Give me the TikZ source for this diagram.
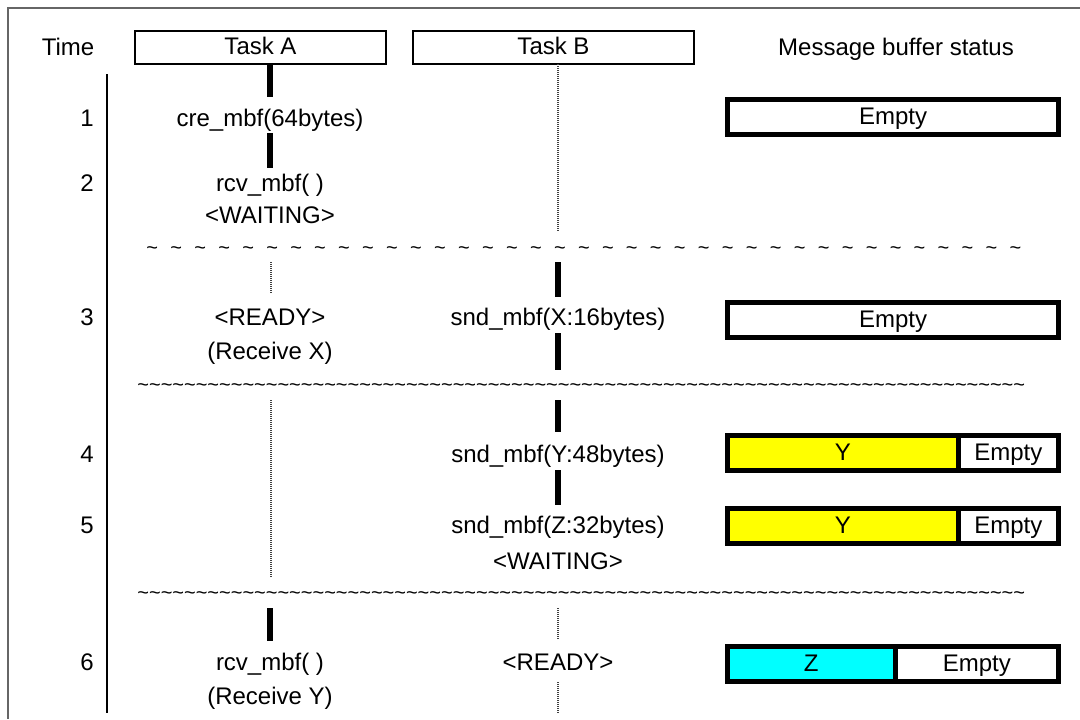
\documentclass[tikz,border=0pt]{standalone}
\usepackage{fontspec}
\setmainfont{Liberation Sans}
\definecolor{bufy}{RGB}{255,255,0}
\definecolor{bufz}{RGB}{0,255,255}
\tikzset{
  txt/.style={font=\fontsize{12}{14}\selectfont, inner sep=0pt, text height=0.72em, text depth=0pt},
  taskbox/.style={txt, draw, line width=0.7pt, minimum height=16.5pt},
  run/.style={line width=3.3pt},
  idle/.style={line width=1pt, black!75, dash pattern=on 0.5pt off 0.5pt},
  cell/.style={txt, draw, line width=2.5pt, minimum height=17.5pt},
  wave/.style={font=\fontsize{10}{12}\selectfont, inner sep=0pt, anchor=base west},
}
\begin{document}
\begin{tikzpicture}[x=0.5pt,y=-0.5pt]
\useasboundingbox (0,0) rectangle (1080,719);
% frame
\draw[black!60, line width=0.6pt] (1080,8) -- (8,8) -- (8,719);

% headers
\node[txt] (time) at (68,48) {Time};
\node[taskbox, minimum width=125.5pt] (taska) at (260.5,47.5) {Task A};
\node[taskbox, minimum width=140.5pt] (taskb) at (553.5,47.5) {Task B};
\node[txt] (status) at (896,48) {Message buffer status};

% time axis
\draw[line width=0.6pt] (107,74) -- (107,713);
\node[txt, anchor=east] (t1) at (94,119) {1};
\node[txt, anchor=east] (t2) at (94,184) {2};
\node[txt, anchor=east] (t3) at (94,318) {3};
\node[txt, anchor=east] (t4) at (94,455) {4};
\node[txt, anchor=east] (t5) at (94,526) {5};
\node[txt, anchor=east] (t6) at (94,663) {6};

% Task A
\draw[run] (270,64) -- (270,97);
\node[txt] (a1) at (270,119) {cre\_mbf(64bytes)};
\draw[run] (270,133) -- (270,168);
\node[txt] (a2) at (270,184) {rcv\_mbf( )};
\node[txt] (a2w) at (270,216) {<WAITING>};
\draw[idle] (271,262) -- (271,294);
\node[txt] (a3) at (270,318) {<READY>};
\node[txt] (a3r) at (270,352) {(Receive X)};
\draw[idle] (271,400) -- (271,578);
\draw[run] (270,608) -- (270,641);
\node[txt] (a6) at (270,663) {rcv\_mbf( )};
\node[txt] (a6r) at (270,697) {(Receive Y)};

% Task B
\draw[idle] (558,64) -- (558,232);
\draw[run] (558,262) -- (558,297);
\node[txt] (b3) at (558,318) {snd\_mbf(X:16bytes)};
\draw[run] (558,333) -- (558,370);
\draw[run] (558,400) -- (558,432);
\node[txt] (b4) at (558,455) {snd\_mbf(Y:48bytes)};
\draw[run] (558,470) -- (558,505);
\node[txt] (b5) at (558,526) {snd\_mbf(Z:32bytes)};
\node[txt] (b5w) at (558,562) {<WAITING>};
\draw[idle] (558,608) -- (558,640);
\node[txt] (b6) at (558,663) {<READY>};
\draw[idle] (558,682) -- (558,713);

% breaks in time
\node[wave] (gap1) at (146,254)
  {\foreach \i in {1,...,37}{\textasciitilde\hspace{6.15pt}}};
\node[wave] (gap2) at (137,391)
  {\foreach \i in {1,...,76}{\textasciitilde}};
\node[wave] (gap3) at (137,599)
  {\foreach \i in {1,...,76}{\textasciitilde}};

% buffer status
\node[cell, minimum width=165.5pt] (m1) at (893,117) {Empty};
\node[cell, minimum width=165.5pt] (m3) at (893,320) {Empty};
\node[cell, fill=bufy, minimum width=115.25pt] (m4y) at (842.75,453) {Y};
\node[cell, minimum width=50.25pt] (m4e) at (1008.25,453) {Empty};
\node[cell, fill=bufy, minimum width=115.25pt] (m5y) at (842.75,526) {Y};
\node[cell, minimum width=50.25pt] (m5e) at (1008.25,526) {Empty};
\node[cell, fill=bufz, minimum width=83.75pt] (m6z) at (811.25,664) {Z};
\node[cell, minimum width=81.75pt] (m6e) at (976.75,664) {Empty};
\end{tikzpicture}
\end{document}
